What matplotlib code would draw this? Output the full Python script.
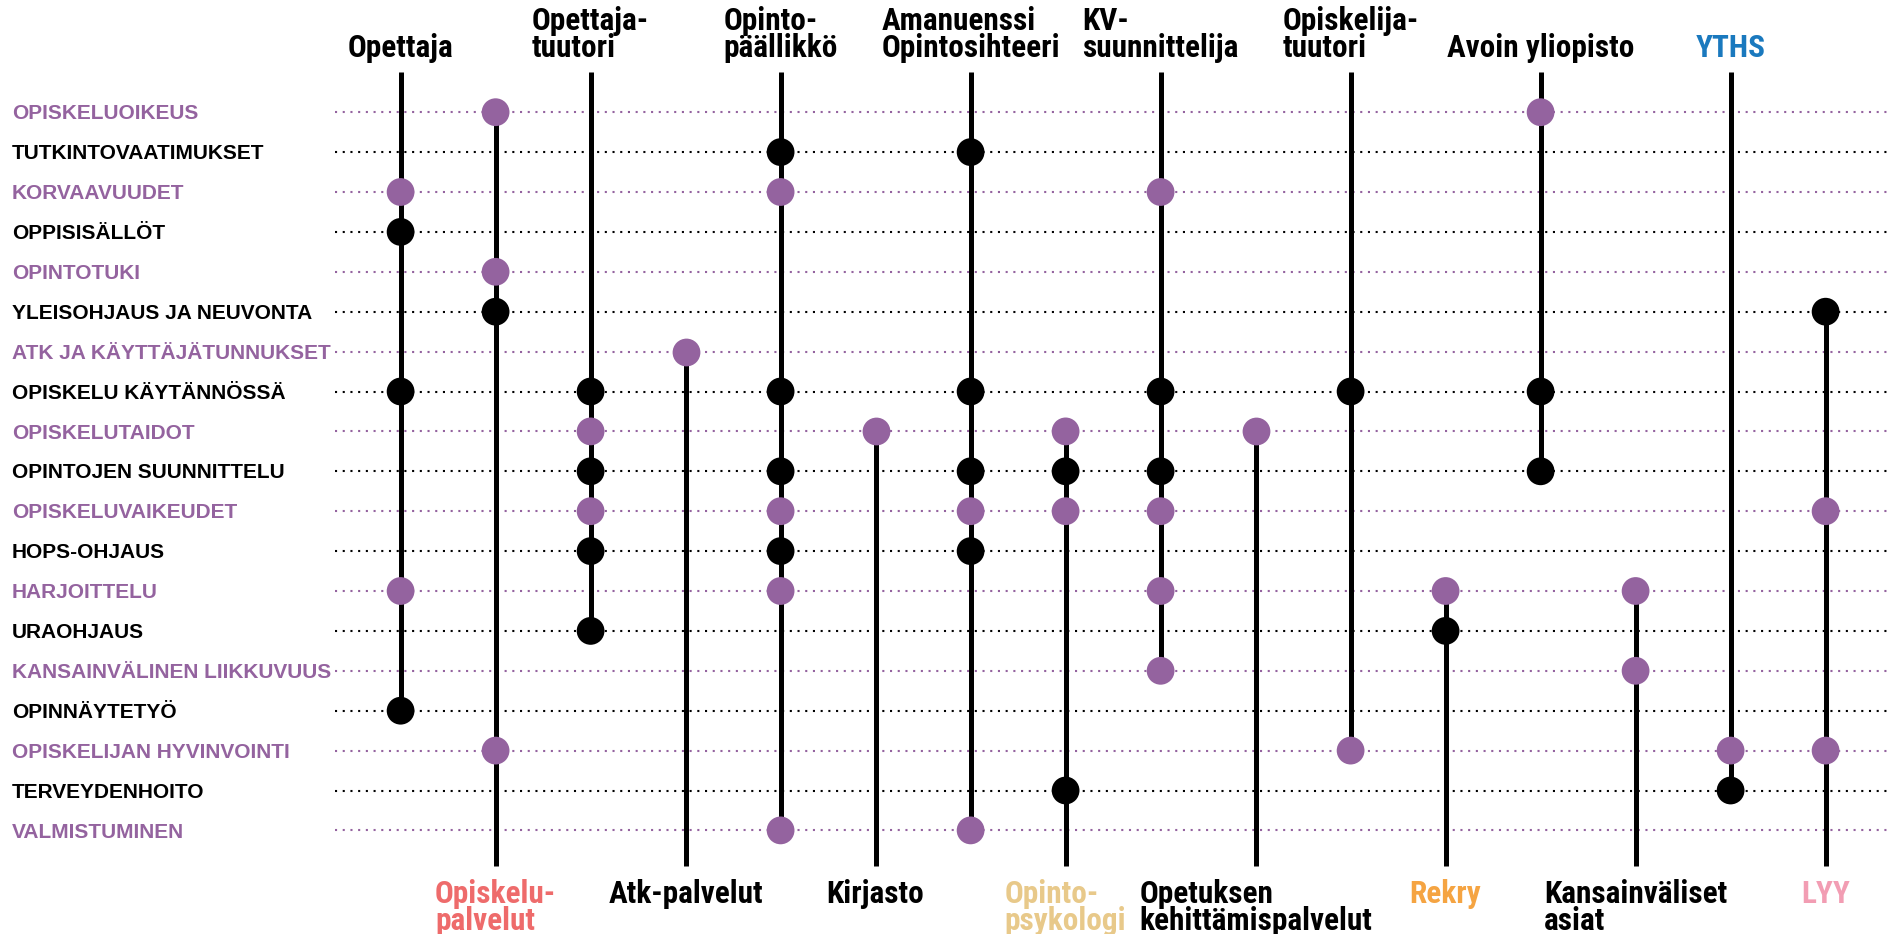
import matplotlib
matplotlib.use("Agg")
import matplotlib.pyplot as plt

# aiheet (rivit)
topics = [
    "OPISKELUOIKEUS", "TUTKINTOVAATIMUKSET", "KORVAAVUUDET", "OPPISISÄLLÖT",
    "OPINTOTUKI", "YLEISOHJAUS JA NEUVONTA", "ATK JA KÄYTTÄJÄTUNNUKSET",
    "OPISKELU KÄYTÄNNÖSSÄ", "OPISKELUTAIDOT", "OPINTOJEN SUUNNITTELU",
    "OPISKELUVAIKEUDET", "HOPS-OHJAUS", "HARJOITTELU", "URAOHJAUS",
    "KANSAINVÄLINEN LIIKKUVUUS", "OPINNÄYTETYÖ", "OPISKELIJAN HYVINVOINTI",
    "TERVEYDENHOITO", "VALMISTUMINEN",
]

# palvelut (sarakkeet)
services = [
    "Opettaja", "Opiskelu-\npalvelut", "Opettaja-\ntuutori", "Atk-palvelut",
    "Opinto-\npäällikkö", "Kirjasto", "Amanuenssi\nOpintosihteeri",
    "Opinto-\npsykologi", "KV-\nsuunnittelija", "Opetuksen\nkehittämispalvelut",
    "Opiskelija-\ntuutori", "Rekry", "Avoin yliopisto", "Kansainväliset\nasiat",
    "YTHS", "LYY",
]
label_side = ["top", "bottom"] * 8
label_colors = [
    "black", "#EE6B6B", "black", "black", "black", "black", "black", "#E8C98A",
    "black", "black", "black", "#F5A442", "black", "black", "#1A79BE", "#F29DB3",
]

# mitkä aiheet kuuluvat millekin palvelulle
service_topics = [
    ["KORVAAVUUDET", "OPPISISÄLLÖT", "OPISKELU KÄYTÄNNÖSSÄ", "HARJOITTELU", "OPINNÄYTETYÖ"],
    ["OPISKELUOIKEUS", "OPINTOTUKI", "YLEISOHJAUS JA NEUVONTA", "OPISKELIJAN HYVINVOINTI"],
    ["OPISKELU KÄYTÄNNÖSSÄ", "OPISKELUTAIDOT", "OPINTOJEN SUUNNITTELU",
     "OPISKELUVAIKEUDET", "HOPS-OHJAUS", "URAOHJAUS"],
    ["ATK JA KÄYTTÄJÄTUNNUKSET"],
    ["TUTKINTOVAATIMUKSET", "KORVAAVUUDET", "OPISKELU KÄYTÄNNÖSSÄ", "OPINTOJEN SUUNNITTELU",
     "OPISKELUVAIKEUDET", "HOPS-OHJAUS", "HARJOITTELU", "VALMISTUMINEN"],
    ["OPISKELUTAIDOT"],
    ["TUTKINTOVAATIMUKSET", "OPISKELU KÄYTÄNNÖSSÄ", "OPINTOJEN SUUNNITTELU",
     "OPISKELUVAIKEUDET", "HOPS-OHJAUS", "VALMISTUMINEN"],
    ["OPISKELUTAIDOT", "OPINTOJEN SUUNNITTELU", "OPISKELUVAIKEUDET", "TERVEYDENHOITO"],
    ["KORVAAVUUDET", "OPISKELU KÄYTÄNNÖSSÄ", "OPINTOJEN SUUNNITTELU",
     "OPISKELUVAIKEUDET", "HARJOITTELU", "KANSAINVÄLINEN LIIKKUVUUS"],
    ["OPISKELUTAIDOT"],
    ["OPISKELU KÄYTÄNNÖSSÄ", "OPISKELIJAN HYVINVOINTI"],
    ["HARJOITTELU", "URAOHJAUS"],
    ["OPISKELUOIKEUS", "OPISKELU KÄYTÄNNÖSSÄ", "OPINTOJEN SUUNNITTELU"],
    ["HARJOITTELU", "KANSAINVÄLINEN LIIKKUVUUS"],
    ["OPISKELIJAN HYVINVOINTI", "TERVEYDENHOITO"],
    ["YLEISOHJAUS JA NEUVONTA", "OPISKELUVAIKEUDET", "OPISKELIJAN HYVINVOINTI"],
]

PURPLE = "#94639F"
row_colors = [PURPLE if k % 2 == 0 else "black" for k in range(len(topics))]

narrow = ["Roboto Condensed", "Liberation Sans Narrow", "DejaVu Sans"]
regular = ["Liberation Sans", "DejaVu Sans"]

fig = plt.figure(figsize=(18.92, 9.34), dpi=100)
ax = fig.add_axes([0, 0, 1, 1])
# sarake i -> x = 400.6 + 95*i px, rivi k -> y = 112.2 + 39.9*k px
ax.set_xlim(-400.6 / 95, (1892 - 400.6) / 95)
ax.set_ylim((934 - 112.2) / 39.9, -112.2 / 39.9)
ax.axis("off")

top_end = -1.0
bottom_end = 18.9
line_step = 27 / 39.9

# vaakasuorat pisteviivat + rivien nimet
for k, t in enumerate(topics):
    ax.plot([-0.69, 15.7], [k, k], color=row_colors[k], lw=1.5,
            linestyle=(0, (1, 2.7)), zorder=1)
    ax.text(-4.09, k + 0.18, t, color=row_colors[k], fontsize=15, fontweight="bold",
            family=regular, va="baseline", ha="left")

# pystyviivat ja pallot
for i, name in enumerate(services):
    rows = [topics.index(t) for t in service_topics[i]]
    if label_side[i] == "top":
        y0, y1 = top_end, max(rows)
    else:
        y0, y1 = min(rows), bottom_end
    ax.plot([i, i], [y0, y1], color="black", lw=3.6, solid_capstyle="butt", zorder=2)
    ax.scatter([i] * len(rows), rows, s=400, c=[row_colors[r] for r in rows],
               zorder=3, linewidths=0)

    # va="baseline" osuu viimeisen rivin pohjaan
    n_lines = name.count("\n") + 1
    if label_side[i] == "top":
        y = -1.383
    else:
        y = 19.82 + line_step * (n_lines - 1)
    ax.text(i, y, name, color=label_colors[i], fontsize=22.5, fontweight="bold",
            family=narrow, fontstretch="condensed", ha="center", va="baseline",
            multialignment="left", linespacing=0.88)

fig.savefig("out.png", dpi=100)
